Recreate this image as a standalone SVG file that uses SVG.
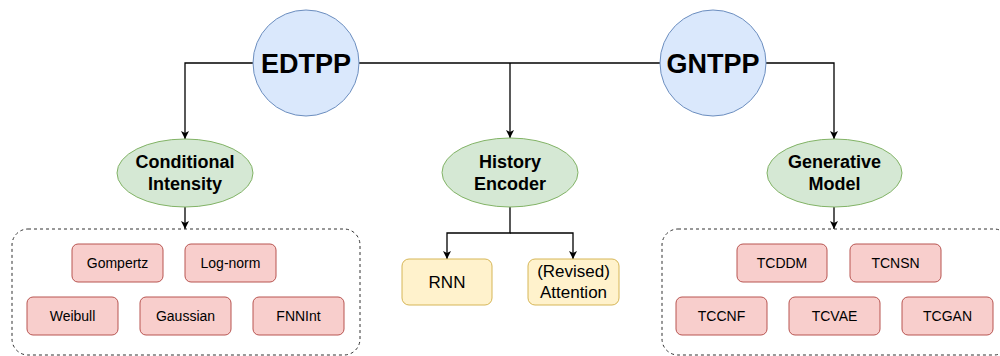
<svg xmlns="http://www.w3.org/2000/svg" width="1000" height="356" viewBox="0 0 1000 356">
<defs>
<style>
.circ{fill:#dae8fc;stroke:#6c8ebf;stroke-width:1}
.ell{fill:#d5e8d4;stroke:#82b366;stroke-width:1}
.red{fill:#f8cecc;stroke:#b85450;stroke-width:1}
.yel{fill:#fff2cc;stroke:#d6b656;stroke-width:1}
.grp{fill:none;stroke:#333;stroke-width:1;stroke-dasharray:3 3}
.conn{fill:none;stroke:#000;stroke-width:1.3}
.big{font-family:"Liberation Sans",Arial,sans-serif;font-weight:bold;font-size:27px;fill:#000;text-anchor:middle}
.mid{font-family:"Liberation Sans",Arial,sans-serif;font-weight:bold;font-size:18px;fill:#000;text-anchor:middle}
.sm{font-family:"Liberation Sans",Arial,sans-serif;font-size:14px;fill:#000;text-anchor:middle}
.ym{font-family:"Liberation Sans",Arial,sans-serif;font-size:17px;fill:#000;text-anchor:middle}
</style>
<marker id="arr" markerWidth="10" markerHeight="10" refX="8" refY="4" orient="auto" markerUnits="userSpaceOnUse">
<path d="M0,0 L8,4 L0,8 L2,4 z" fill="#000"/>
</marker>
</defs>
<rect width="1000" height="356" fill="#fff"/>
<g id="connectors">
<path class="conn" d="M253,63 H185 V139" marker-end="url(#arr)"/>
<path class="conn" d="M359,63 H660"/>
<path class="conn" d="M510,63 V138" marker-end="url(#arr)"/>
<path class="conn" d="M766,63 H834 V139" marker-end="url(#arr)"/>
<path class="conn" d="M185,207 V229" marker-end="url(#arr)"/>
<path class="conn" d="M834,207 V229" marker-end="url(#arr)"/>
<path class="conn" d="M510,207 V233 H447 V259" marker-end="url(#arr)"/>
<path class="conn" d="M510,233 H573 V259" marker-end="url(#arr)"/>
</g>
<g id="edtpp"><circle class="circ" cx="306" cy="63" r="53"/><text class="big" x="306" y="73">EDTPP</text></g>
<g id="gntpp"><circle class="circ" cx="713" cy="63" r="53"/><text class="big" x="713" y="73">GNTPP</text></g>
<g id="cond"><ellipse class="ell" cx="185" cy="173" rx="68" ry="34"/><text class="mid" x="185" y="168">Conditional</text><text class="mid" x="185" y="190">Intensity</text></g>
<g id="hist"><ellipse class="ell" cx="510" cy="172.5" rx="68" ry="34.5"/><text class="mid" x="510" y="168">History</text><text class="mid" x="510" y="190">Encoder</text></g>
<g id="gen"><ellipse class="ell" cx="834.5" cy="173" rx="67.5" ry="34"/><text class="mid" x="834.5" y="168">Generative</text><text class="mid" x="834.5" y="190">Model</text></g>
<g id="group-left"><rect class="grp" x="12" y="229" width="348" height="126" rx="16"/></g>
<g id="group-right"><rect class="grp" x="662" y="229" width="348" height="126" rx="16"/></g>
<g id="gompertz"><rect class="red" x="72" y="244" width="91" height="38" rx="6"/><text class="sm" x="117.5" y="268">Gompertz</text></g>
<g id="lognorm"><rect class="red" x="185" y="244" width="91" height="38" rx="6"/><text class="sm" x="230.5" y="268">Log-norm</text></g>
<g id="weibull"><rect class="red" x="27" y="297" width="91" height="38" rx="6"/><text class="sm" x="72.5" y="321">Weibull</text></g>
<g id="gaussian"><rect class="red" x="140" y="297" width="91" height="38" rx="6"/><text class="sm" x="185.5" y="321">Gaussian</text></g>
<g id="fnnint"><rect class="red" x="253" y="297" width="91" height="38" rx="6"/><text class="sm" x="298.5" y="321">FNNInt</text></g>
<g id="rnn"><rect class="yel" x="402" y="259" width="90" height="46" rx="7"/><text class="ym" x="447" y="288">RNN</text></g>
<g id="attention"><rect class="yel" x="528" y="259" width="91" height="46" rx="7"/><text class="ym" x="573.5" y="277">(Revised)</text><text class="ym" x="573.5" y="298">Attention</text></g>
<g id="tcddm"><rect class="red" x="737" y="244" width="90" height="38" rx="6"/><text class="sm" x="782" y="268">TCDDM</text></g>
<g id="tcnsn"><rect class="red" x="850" y="244" width="91" height="38" rx="6"/><text class="sm" x="895.5" y="268">TCNSN</text></g>
<g id="tccnf"><rect class="red" x="676" y="297" width="91" height="38" rx="6"/><text class="sm" x="721.5" y="321">TCCNF</text></g>
<g id="tcvae"><rect class="red" x="789" y="297" width="91" height="38" rx="6"/><text class="sm" x="834.5" y="321">TCVAE</text></g>
<g id="tcgan"><rect class="red" x="902" y="297" width="91" height="38" rx="6"/><text class="sm" x="947.5" y="321">TCGAN</text></g>
</svg>
